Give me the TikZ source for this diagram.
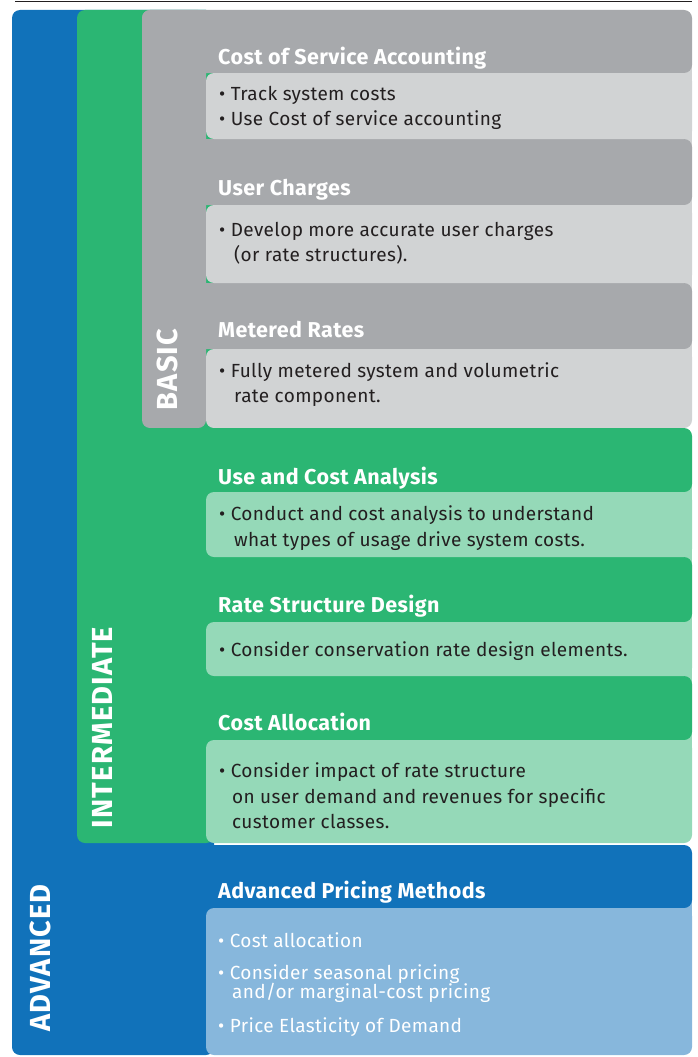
\documentclass[tikz,border=0pt]{standalone}
\usepackage{fontspec}
\setmainfont{Fira Sans}
\definecolor{cblue}{HTML}{1172BA}
\definecolor{clblue}{HTML}{87B7DC}
\definecolor{cgreen}{HTML}{2BB673}
\definecolor{clgreen}{HTML}{95D9B8}
\definecolor{cgray}{HTML}{A7A9AC}
\definecolor{clgray}{HTML}{D1D3D4}
\definecolor{ctext}{HTML}{231F20}
\begin{document}
\begin{tikzpicture}[x=1pt,y=-1pt,
  rbox/.style={rounded corners=8pt},
  title/.style={anchor=base west, inner sep=0pt, font=\fontsize{21.5}{25}\selectfont\bfseries\addfontfeature{LetterSpace=2}, text=white},
  body/.style={anchor=base west, inner sep=0pt, font=\fontsize{19}{25}\selectfont\addfontfeature{LetterSpace=2}, text=ctext},
  wbody/.style={body, text=white},
  vlabel/.style={rotate=90, inner sep=0pt, font=\fontsize{29}{30}\selectfont\bfseries\addfontfeature{LetterSpace=4}, text=white}]
\useasboundingbox (0,0) rectangle (698,1057);
% top rule
\coordinate (rl) at (15,2);
\coordinate (rr) at (692,2);
\draw[line width=1pt, ctext] (rl) -- (rr);
% columns
\fill[cblue, rbox] (12,10) rectangle (214,1055);
\fill[cgreen, rbox] (77,10) rectangle (214,843);
\fill[cgray, rbox] (142,10) rectangle (206,428);
% BASIC section
\fill[clgray] (676,60) rectangle (692,152);
\fill[clgray] (676,195) rectangle (692,296);
\fill[clgray] (676,340) rectangle (692,420);
\fill[cgray, rbox] (142,10) rectangle (692,73);
\fill[cgray, rbox] (142,139) rectangle (692,205);
\fill[cgray, rbox] (142,283) rectangle (692,349);
\fill[clgray, rbox] (206,73) rectangle (692,139);
\fill[clgray, rbox] (206,205) rectangle (692,283);
\fill[clgray, rbox] (206,349) rectangle (692,428);
% INTERMEDIATE section
\fill[clgreen] (676,484) rectangle (692,570);
\fill[clgreen] (676,612) rectangle (692,690);
\fill[clgreen] (676,730) rectangle (692,830);
\fill[cgreen, rbox] (142,428) rectangle (692,492);
\fill[cgreen, rbox] (142,557) rectangle (692,622);
\fill[cgreen, rbox] (142,676) rectangle (692,740);
\fill[clgreen, rbox] (206,492) rectangle (692,557);
\fill[clgreen, rbox] (206,622) rectangle (692,676);
\fill[clgreen, rbox] (206,740) rectangle (692,843);
% ADVANCED section
\fill[clblue] (676,898) rectangle (692,920);
\fill[cblue, rbox] (142,845) rectangle (692,908);
\fill[clblue, rbox] (206,908) rectangle (692,1055);
% vertical labels
\node[vlabel] (lbasic) at (167.5,369.5) {BASIC};
\node[vlabel] (linter) at (102.5,727.5) {INTERMEDIATE};
\node[vlabel] (ladv) at (40,958) {ADVANCED};
% texts
\node[title] (t1) at (218,65) {Cost of Service Accounting};
\node[body] (b1a) at (219,100) {• Track system costs};
\node[body] (b1b) at (219,125) {• Use Cost of service accounting};
\node[title] (t2) at (218,195) {User Charges};
\node[body] (b2a) at (219,236) {• Develop more accurate user charges};
\node[body] (b2b) at (234,261) {(or rate structures).};
\node[title] (t3) at (218,337) {Metered Rates};
\node[body] (b3a) at (219,377) {• Fully metered system and volumetric};
\node[body] (b3b) at (234,402) {rate component.};
\node[title] (t4) at (218,484) {Use and Cost Analysis};
\node[body] (b4a) at (219,520) {• Conduct and cost analysis to understand};
\node[body] (b4b) at (234,546) {what types of usage drive system costs.};
\node[title] (t5) at (218,612) {Rate Structure Design};
\node[body] (b5a) at (219,656) {• Consider conservation rate design elements.};
\node[title] (t6) at (218,730) {Cost Allocation};
\node[body] (b6a) at (219,777) {• Consider impact of rate structure};
\node[body] (b6b) at (232,803) {on user demand and revenues for specific};
\node[body] (b6c) at (232,828) {customer classes.};
\node[title] (t7) at (218,898) {Advanced Pricing Methods};
\node[wbody] (b7a) at (218,947) {• Cost allocation};
\node[wbody] (b7b) at (218,979) {• Consider seasonal pricing};
\node[wbody] (b7c) at (232,998) {and/or marginal-cost pricing};
\node[wbody] (b7d) at (218,1032) {• Price Elasticity of Demand};
\end{tikzpicture}
\end{document}
